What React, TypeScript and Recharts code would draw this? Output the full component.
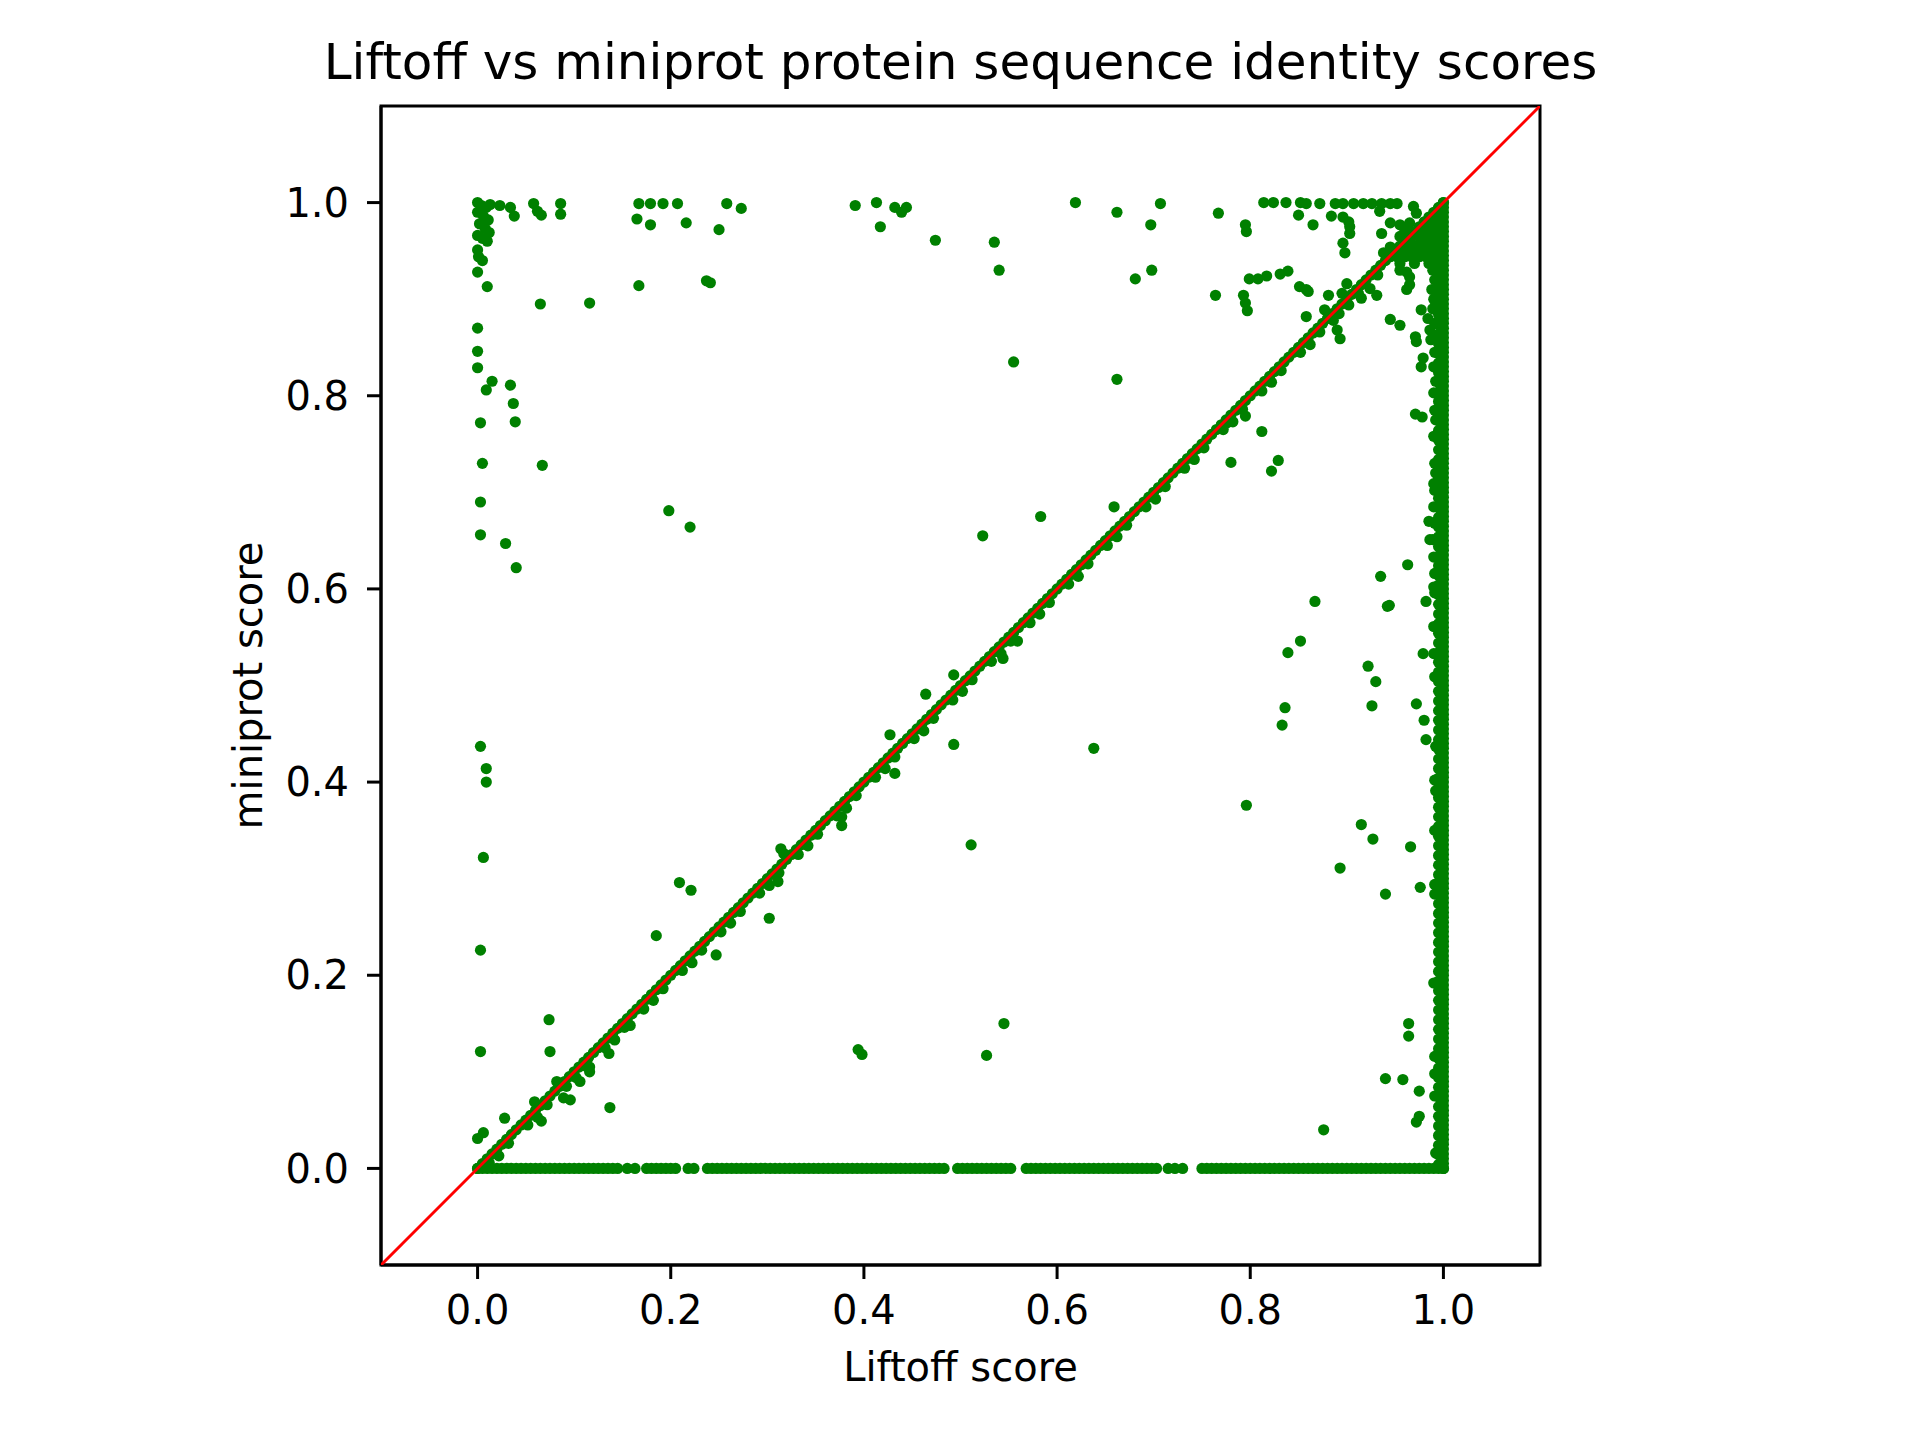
import React from 'react';
import { ScatterChart, Scatter, XAxis, YAxis, Label, ReferenceArea } from 'recharts';

const TITLE = 'Liftoff vs miniprot protein sequence identity scores';
const X_LABEL = 'Liftoff score';
const Y_LABEL = 'miniprot score';
const axisDomain: [number, number] = [-0.1, 1.1];
const axisTicks = [0, 0.2, 0.4, 0.6, 0.8, 1.0];
const axisTickLabels = ['0.0', '0.2', '0.4', '0.6', '0.8', '1.0'];

// genes where Liftoff and miniprot scores are identical (on the diagonal)
const identicalScores = [
  0.000, 0.005, 0.010, 0.015, 0.020, 0.025, 0.030, 0.035, 0.040, 0.045, 0.050, 0.055, 0.060, 0.065, 0.070, 0.075, 0.080, 0.085, 0.090, 0.095,
  0.100, 0.105, 0.110, 0.115, 0.120, 0.125, 0.130, 0.135, 0.140, 0.145, 0.150, 0.155, 0.160, 0.165, 0.170, 0.175, 0.180, 0.185, 0.190, 0.195,
  0.200, 0.205, 0.210, 0.215, 0.220, 0.225, 0.230, 0.235, 0.240, 0.245, 0.250, 0.255, 0.260, 0.265, 0.270, 0.275, 0.280, 0.285, 0.290, 0.295,
  0.300, 0.305, 0.310, 0.315, 0.320, 0.325, 0.330, 0.335, 0.340, 0.345, 0.350, 0.355, 0.360, 0.365, 0.370, 0.375, 0.380, 0.385, 0.390, 0.395,
  0.400, 0.405, 0.410, 0.415, 0.420, 0.425, 0.430, 0.435, 0.440, 0.445, 0.450, 0.455, 0.460, 0.465, 0.470, 0.475, 0.480, 0.485, 0.490, 0.495,
  0.500, 0.505, 0.510, 0.515, 0.520, 0.525, 0.530, 0.535, 0.540, 0.545, 0.550, 0.555, 0.560, 0.565, 0.570, 0.575, 0.580, 0.585, 0.590, 0.595,
  0.600, 0.605, 0.610, 0.615, 0.620, 0.625, 0.630, 0.635, 0.640, 0.645, 0.650, 0.655, 0.660, 0.665, 0.670, 0.675, 0.680, 0.685, 0.690, 0.695,
  0.700, 0.705, 0.710, 0.715, 0.720, 0.725, 0.730, 0.735, 0.740, 0.745, 0.750, 0.755, 0.760, 0.765, 0.770, 0.775, 0.780, 0.785, 0.790, 0.795,
  0.800, 0.805, 0.810, 0.815, 0.820, 0.825, 0.830, 0.835, 0.840, 0.845, 0.850, 0.855, 0.860, 0.865, 0.870, 0.875, 0.880, 0.885, 0.890, 0.895,
  0.900, 0.905, 0.910, 0.915, 0.920, 0.925, 0.930, 0.935, 0.940, 0.945, 0.950, 0.955, 0.960, 0.965, 0.970, 0.975, 0.980, 0.985, 0.990, 0.995,
  1.000,
];

// [Liftoff, miniprot] genes lying just below the diagonal (slightly lower miniprot score)
const nearDiagonal: [number, number][] = [
  [0.012, 0.006], [0.032, 0.026], [0.052, 0.045], [0.072, 0.066], [0.092, 0.085], [0.112, 0.106], [0.132, 0.125], [0.152, 0.146],
  [0.172, 0.165], [0.192, 0.186], [0.212, 0.205], [0.232, 0.226], [0.252, 0.245], [0.272, 0.266], [0.292, 0.285], [0.312, 0.306],
  [0.332, 0.325], [0.352, 0.346], [0.372, 0.365], [0.392, 0.386], [0.412, 0.405], [0.432, 0.426], [0.452, 0.445], [0.472, 0.466],
  [0.492, 0.485], [0.512, 0.506], [0.532, 0.525], [0.552, 0.546], [0.572, 0.565], [0.592, 0.586], [0.612, 0.605], [0.632, 0.626],
  [0.652, 0.645], [0.672, 0.666], [0.692, 0.685], [0.712, 0.706], [0.732, 0.725], [0.752, 0.746], [0.772, 0.765], [0.792, 0.786],
  [0.812, 0.805], [0.832, 0.826], [0.852, 0.845], [0.872, 0.866], [0.892, 0.885], [0.912, 0.906], [0.932, 0.925],
  [0.022, 0.013], [0.062, 0.053], [0.102, 0.094], [0.142, 0.133], [0.182, 0.174], [0.222, 0.213], [0.262, 0.254], [0.302, 0.293],
  [0.342, 0.334], [0.382, 0.373], [0.422, 0.414], [0.462, 0.453], [0.502, 0.494], [0.542, 0.533], [0.582, 0.574], [0.622, 0.613],
  [0.662, 0.654], [0.702, 0.693], [0.742, 0.734], [0.782, 0.773], [0.822, 0.814], [0.862, 0.853], [0.902, 0.894],
];

// Liftoff scores of genes whose miniprot score is 0
const liftoffWithZeroMiniprot = [
  0.000, 0.005, 0.010, 0.015, 0.020, 0.025, 0.030, 0.035, 0.040, 0.045, 0.050, 0.055, 0.060, 0.065, 0.070, 0.075, 0.080, 0.085, 0.090, 0.095,
  0.100, 0.105, 0.110, 0.115, 0.120, 0.125, 0.130, 0.135, 0.140, 0.145, 0.155, 0.163,
  0.175, 0.180, 0.185, 0.190, 0.195, 0.200, 0.205, 0.218, 0.224,
  0.238, 0.243, 0.248, 0.253, 0.258, 0.263, 0.268, 0.273, 0.278, 0.283, 0.288, 0.293, 0.298, 0.303, 0.308, 0.313, 0.318, 0.323, 0.328, 0.333,
  0.338, 0.343, 0.348, 0.353, 0.358, 0.363, 0.368, 0.373, 0.378, 0.383, 0.388, 0.393, 0.398, 0.403, 0.408, 0.413, 0.418, 0.423, 0.428, 0.433,
  0.438, 0.443, 0.448, 0.453, 0.458, 0.463, 0.468, 0.473, 0.478, 0.483,
  0.497, 0.502, 0.507, 0.512, 0.517, 0.522, 0.527, 0.532, 0.537, 0.542, 0.547, 0.552,
  0.568, 0.573, 0.578, 0.583, 0.588, 0.593, 0.598, 0.603, 0.608, 0.613, 0.618, 0.623, 0.628, 0.633, 0.638, 0.643, 0.648, 0.653, 0.658, 0.663,
  0.668, 0.673, 0.678, 0.683, 0.688, 0.693, 0.698, 0.703, 0.715, 0.722, 0.730,
  0.750, 0.755, 0.760, 0.765, 0.770, 0.775, 0.780, 0.785, 0.790, 0.795, 0.800, 0.805, 0.810, 0.815, 0.820, 0.825, 0.830, 0.835, 0.840, 0.845,
  0.850, 0.855, 0.860, 0.865, 0.870, 0.875, 0.880, 0.885, 0.890, 0.895, 0.900, 0.905, 0.910, 0.915, 0.920, 0.925, 0.930, 0.935, 0.940, 0.945,
  0.950, 0.955, 0.960, 0.965, 0.970, 0.975, 0.980, 0.985, 0.990, 0.995, 1.000,
];

// miniprot scores of genes whose Liftoff score is 1
const miniprotWithFullLiftoff = [
  0.000, 0.005, 0.010, 0.015, 0.020, 0.025, 0.030, 0.035, 0.040, 0.045, 0.050, 0.055, 0.060, 0.065, 0.070, 0.075, 0.080, 0.085, 0.090, 0.095,
  0.100, 0.105, 0.110, 0.115, 0.120, 0.125, 0.130, 0.135, 0.140, 0.145, 0.150, 0.155, 0.160, 0.165, 0.170, 0.175, 0.180, 0.185, 0.190, 0.195,
  0.200, 0.205, 0.210, 0.215, 0.220, 0.225, 0.230, 0.235, 0.240, 0.245, 0.250, 0.255, 0.260, 0.265, 0.270, 0.275, 0.280, 0.285, 0.290, 0.295,
  0.300, 0.305, 0.310, 0.315, 0.320, 0.325, 0.330, 0.335, 0.340, 0.345, 0.350, 0.355, 0.360, 0.365, 0.370, 0.375, 0.380, 0.385, 0.390, 0.395,
  0.400, 0.405, 0.410, 0.415, 0.420, 0.425, 0.430, 0.435, 0.440, 0.445, 0.450, 0.455, 0.460, 0.465, 0.470, 0.475, 0.480, 0.485, 0.490, 0.495,
  0.500, 0.505, 0.510, 0.515, 0.520, 0.525, 0.530, 0.535, 0.540, 0.545, 0.550, 0.555, 0.560, 0.565, 0.570, 0.575, 0.580, 0.585, 0.590, 0.595,
  0.600, 0.605, 0.610, 0.615, 0.620, 0.625, 0.630, 0.635, 0.640, 0.645, 0.650, 0.655, 0.660, 0.665, 0.670, 0.675, 0.680, 0.685, 0.690, 0.695,
  0.700, 0.705, 0.710, 0.715, 0.720, 0.725, 0.730, 0.735, 0.740, 0.745, 0.750, 0.755, 0.760, 0.765, 0.770, 0.775, 0.780, 0.785, 0.790, 0.795,
  0.800, 0.805, 0.810, 0.815, 0.820, 0.825, 0.830, 0.835, 0.840, 0.845, 0.850, 0.855, 0.860, 0.865, 0.870, 0.875, 0.880, 0.885, 0.890, 0.895,
  0.900, 0.905, 0.910, 0.915, 0.920, 0.925, 0.930, 0.935, 0.940, 0.945, 0.950, 0.955, 0.960, 0.965, 0.970, 0.975, 0.980, 0.985, 0.990, 0.995,
  1.000,
];

// miniprot scores of genes whose Liftoff score is 0.995
const miniprotWithLiftoff995 = [
  0.004, 0.014, 0.024, 0.034, 0.044, 0.054, 0.064, 0.074, 0.084, 0.094, 0.104, 0.114, 0.124, 0.134, 0.144, 0.154, 0.164, 0.174, 0.184, 0.194,
  0.204, 0.214, 0.224, 0.234, 0.244, 0.254, 0.264, 0.274, 0.284, 0.294, 0.304, 0.314, 0.324, 0.334, 0.344, 0.354, 0.364, 0.374, 0.384, 0.394,
  0.404, 0.414, 0.424, 0.434, 0.444, 0.454, 0.464, 0.474, 0.484, 0.494, 0.504, 0.514, 0.524, 0.534, 0.544, 0.554, 0.564, 0.574, 0.584, 0.594,
  0.604, 0.614, 0.624, 0.634, 0.644, 0.654, 0.664, 0.674, 0.684, 0.694, 0.704, 0.714, 0.724, 0.734, 0.744, 0.754, 0.764, 0.774, 0.784, 0.794,
  0.804, 0.814, 0.824, 0.834, 0.844, 0.854, 0.864, 0.874, 0.884, 0.894, 0.904, 0.914, 0.924, 0.934, 0.944, 0.954, 0.964, 0.974, 0.984, 0.994,
];

// [Liftoff, miniprot] genes hugging the Liftoff = 1 column
const columnEdge: [number, number][] = [
  [0.990, 0.940], [0.989, 0.930], [0.991, 0.920], [0.988, 0.910], [0.990, 0.900], [0.989, 0.890], [0.991, 0.875], [0.990, 0.860],
  [0.991, 0.845], [0.990, 0.830], [0.992, 0.815], [0.990, 0.803], [0.991, 0.785], [0.992, 0.775], [0.990, 0.758], [0.991, 0.730],
  [0.992, 0.720], [0.990, 0.709], [0.991, 0.702], [0.990, 0.685], [0.991, 0.668], [0.989, 0.651], [0.990, 0.633], [0.991, 0.616],
  [0.990, 0.602], [0.991, 0.596], [0.990, 0.561], [0.990, 0.533], [0.991, 0.509], [0.992, 0.437], [0.991, 0.402], [0.992, 0.391],
  [0.991, 0.350], [0.991, 0.294], [0.991, 0.284], [0.990, 0.192], [0.991, 0.116], [0.991, 0.098], [0.991, 0.075], [0.992, 0.016],
];

// [Liftoff, miniprot] dense group just below the diagonal near (1, 1)
const cornerCluster: [number, number][] = [
  [0.945, 0.944], [0.952, 0.944], [0.960, 0.944], [0.967, 0.944], [0.975, 0.944], [0.982, 0.944], [0.990, 0.944],
  [0.952, 0.950], [0.960, 0.950], [0.967, 0.950], [0.975, 0.950], [0.982, 0.950], [0.990, 0.950],
  [0.960, 0.957], [0.967, 0.957], [0.975, 0.957], [0.982, 0.957], [0.990, 0.957],
  [0.967, 0.965], [0.975, 0.965], [0.982, 0.965], [0.990, 0.965],
  [0.975, 0.972], [0.982, 0.972], [0.990, 0.972], [0.982, 0.980], [0.990, 0.980], [0.990, 0.988],
  [0.955, 0.937], [0.970, 0.937], [0.985, 0.937],
  [0.969, 0.996], [0.972, 0.989], [0.965, 0.979], [0.960, 0.972], [0.955, 0.965], [0.945, 0.954], [0.938, 0.948],
];

// [Liftoff, miniprot] scattered genes
const scatteredGenes: [number, number][] = [
  [0.000, 1.000], [0.004, 0.997], [0.009, 0.995], [0.013, 0.998], [0.000, 0.990], [0.006, 0.986], [0.011, 0.982], [0.002, 0.978],
  [0.008, 0.973], [0.012, 0.969], [0.000, 0.966], [0.005, 0.963], [0.010, 0.960],
  [0.023, 0.997], [0.034, 0.995], [0.038, 0.986], [0.058, 0.999], [0.062, 0.991], [0.066, 0.987], [0.086, 0.999], [0.086, 0.988],
  [0.167, 0.999], [0.179, 0.999], [0.192, 0.999], [0.207, 0.999], [0.165, 0.983], [0.179, 0.977], [0.216, 0.979], [0.258, 0.999],
  [0.273, 0.994], [0.250, 0.972],
  [0.000, 0.951], [0.001, 0.944], [0.005, 0.940], [0.000, 0.928], [0.010, 0.913], [0.065, 0.895], [0.116, 0.896], [0.167, 0.914],
  [0.237, 0.919], [0.241, 0.917],
  [0.000, 0.870], [0.000, 0.846], [0.000, 0.829], [0.015, 0.815], [0.034, 0.811], [0.009, 0.806], [0.037, 0.792], [0.039, 0.773],
  [0.003, 0.772], [0.005, 0.730], [0.067, 0.728], [0.003, 0.690], [0.003, 0.656], [0.029, 0.647], [0.040, 0.622], [0.198, 0.681],
  [0.220, 0.664],
  [0.003, 0.437], [0.009, 0.414], [0.009, 0.400], [0.006, 0.322], [0.003, 0.226], [0.003, 0.121], [0.000, 0.031], [0.006, 0.037],
  [0.028, 0.052], [0.074, 0.154], [0.075, 0.121], [0.066, 0.049], [0.082, 0.090], [0.089, 0.073], [0.096, 0.071], [0.106, 0.090],
  [0.116, 0.100], [0.116, 0.105], [0.136, 0.119], [0.137, 0.063], [0.158, 0.148], [0.059, 0.069],
  [0.185, 0.241], [0.209, 0.296], [0.221, 0.288], [0.247, 0.221], [0.302, 0.259], [0.314, 0.331], [0.317, 0.326], [0.311, 0.297],
  [0.377, 0.355], [0.377, 0.364], [0.394, 0.123], [0.398, 0.118], [0.427, 0.449], [0.432, 0.409], [0.464, 0.491], [0.493, 0.439],
  [0.493, 0.511], [0.511, 0.335], [0.523, 0.655], [0.527, 0.117], [0.545, 0.150], [0.544, 0.528], [0.559, 0.546], [0.555, 0.835],
  [0.583, 0.675], [0.638, 0.435], [0.659, 0.685], [0.662, 0.817],
  [0.391, 0.997], [0.413, 1.000], [0.417, 0.975], [0.432, 0.995], [0.439, 0.990], [0.444, 0.995], [0.474, 0.961], [0.535, 0.959],
  [0.540, 0.930], [0.619, 1.000], [0.662, 0.990], [0.697, 0.977], [0.707, 0.999], [0.698, 0.930], [0.681, 0.921],
  [0.767, 0.989], [0.795, 0.977], [0.796, 0.970], [0.764, 0.904], [0.793, 0.904], [0.795, 0.896], [0.797, 0.888], [0.799, 0.921],
  [0.808, 0.921], [0.817, 0.924], [0.831, 0.926], [0.839, 0.929],
  [0.814, 1.000], [0.824, 1.000], [0.837, 1.000], [0.852, 1.000], [0.858, 0.999], [0.872, 0.999], [0.888, 0.999], [0.896, 0.999],
  [0.907, 0.999], [0.917, 0.999], [0.926, 0.999], [0.936, 0.999], [0.945, 0.999], [0.952, 0.999],
  [0.850, 0.987], [0.865, 0.977], [0.884, 0.986], [0.896, 0.985], [0.902, 0.980], [0.903, 0.975], [0.903, 0.968], [0.896, 0.958],
  [0.898, 0.948], [0.934, 0.991], [0.936, 0.968], [0.945, 0.979], [0.955, 0.977],
  [0.955, 0.930], [0.962, 0.928], [0.965, 0.923], [0.962, 0.910], [0.965, 0.915], [0.931, 0.904], [0.915, 0.901], [0.924, 0.911],
  [0.900, 0.916], [0.895, 0.906], [0.881, 0.904], [0.858, 0.910], [0.851, 0.913], [0.860, 0.908],
  [0.945, 0.879], [0.955, 0.873], [0.977, 0.889], [0.984, 0.880], [0.986, 0.868], [0.987, 0.858], [0.971, 0.861], [0.972, 0.856],
  [0.979, 0.839], [0.977, 0.830], [0.886, 0.878], [0.890, 0.868], [0.893, 0.859], [0.877, 0.889], [0.858, 0.882],
  [0.780, 0.731], [0.776, 0.772], [0.795, 0.779], [0.812, 0.763], [0.822, 0.722], [0.829, 0.733], [0.796, 0.376], [0.833, 0.459],
  [0.836, 0.477], [0.839, 0.534], [0.852, 0.546], [0.867, 0.587],
  [0.971, 0.781], [0.978, 0.778], [0.985, 0.670], [0.986, 0.651], [0.963, 0.625], [0.935, 0.613], [0.942, 0.582], [0.944, 0.583],
  [0.982, 0.587], [0.979, 0.533], [0.922, 0.520], [0.930, 0.504], [0.926, 0.479], [0.972, 0.481], [0.980, 0.464], [0.982, 0.444],
  [0.915, 0.356], [0.927, 0.341], [0.966, 0.333],
  [0.893, 0.311], [0.940, 0.284], [0.976, 0.291], [0.964, 0.150], [0.964, 0.137], [0.940, 0.093], [0.958, 0.092], [0.975, 0.080],
  [0.975, 0.054], [0.972, 0.048], [0.876, 0.040],
];

// y = x reference line endpoints
const identityLineEnds = [-0.1, 1.1];

const GREEN = '#008000';
const FONT = 'DejaVu Sans';

const diagonalPoints = identicalScores.map((v) => ({ x: v, y: v }));
const bottomPoints = liftoffWithZeroMiniprot.map((v) => ({ x: v, y: 0 }));
const columnPoints = miniprotWithFullLiftoff.map((v) => ({ x: 1, y: v }));
const column995Points = miniprotWithLiftoff995.map((v) => ({ x: 0.995, y: v }));
const pairPoints = [...nearDiagonal, ...columnEdge, ...cornerCluster, ...scatteredGenes].map(([x, y]) => ({ x, y }));
const allPoints = [...bottomPoints, ...columnPoints, ...column995Points, ...pairPoints, ...diagonalPoints];
const linePoints = identityLineEnds.map((v) => ({ x: v, y: v }));

const Dot = (props: any) => {
  if (props.cx == null || props.cy == null) return <g />;
  return <circle cx={props.cx} cy={props.cy} r={5.6} fill={GREEN} stroke="none" />;
};

const tickFmt = (v: number) => {
  const i = axisTicks.findIndex((t) => Math.abs(t - v) < 1e-9);
  return i >= 0 ? axisTickLabels[i] : String(v);
};

const tickStyle = { fill: '#000', fontSize: 40, fontFamily: FONT };
const lineStyle = { stroke: '#000', strokeWidth: 3 };

export default function App() {
  return (
    <div style={{ position: 'absolute', left: 0, top: 0, width: 1920, height: 1440, background: '#fff' }}>
      <div
        style={{
          position: 'absolute',
          left: 0,
          top: 37,
          width: 1921,
          textAlign: 'center',
          fontFamily: FONT,
          fontSize: 50,
          lineHeight: '50px',
          color: '#000',
          whiteSpace: 'nowrap',
        }}
      >
        {TITLE}
      </div>
      <ScatterChart width={1920} height={1440} margin={{ top: 106, right: 380, bottom: 95, left: 200 }}>
        <XAxis
          xAxisId={0}
          type="number"
          dataKey="x"
          domain={axisDomain}
          ticks={axisTicks}
          tickFormatter={tickFmt}
          allowDataOverflow
          height={80}
          tickSize={14}
          tickMargin={17}
          tick={tickStyle}
          axisLine={lineStyle}
          tickLine={lineStyle}
        >
          <Label value={X_LABEL} position="bottom" offset={8} style={{ fill: '#000', fontSize: 40, fontFamily: FONT }} />
        </XAxis>
        <YAxis
          yAxisId={0}
          type="number"
          dataKey="y"
          domain={axisDomain}
          ticks={axisTicks}
          tickFormatter={tickFmt}
          allowDataOverflow
          width={181}
          tickSize={14}
          tickMargin={18}
          tick={tickStyle}
          axisLine={lineStyle}
          tickLine={lineStyle}
        >
          <Label
            value={Y_LABEL}
            angle={-90}
            position="insideLeft"
            offset={48}
            style={{ fill: '#000', fontSize: 40, fontFamily: FONT, textAnchor: 'middle' }}
          />
        </YAxis>
        <Scatter data={allPoints} xAxisId={0} yAxisId={0} fill={GREEN} shape={Dot} isAnimationActive={false} />
        <Scatter
          data={linePoints}
          xAxisId={0}
          yAxisId={0}
          fill="#ff0000"
          line={{ stroke: '#ff0000', strokeWidth: 3 }}
          shape={() => <g />}
          isAnimationActive={false}
        />
        <ReferenceArea
          xAxisId={0}
          yAxisId={0}
          x1={axisDomain[0]}
          x2={axisDomain[1]}
          y1={axisDomain[0]}
          y2={axisDomain[1]}
          fill="none"
          fillOpacity={0}
          stroke="#000"
          strokeWidth={3}
          ifOverflow="visible"
        />
      </ScatterChart>
    </div>
  );
}
